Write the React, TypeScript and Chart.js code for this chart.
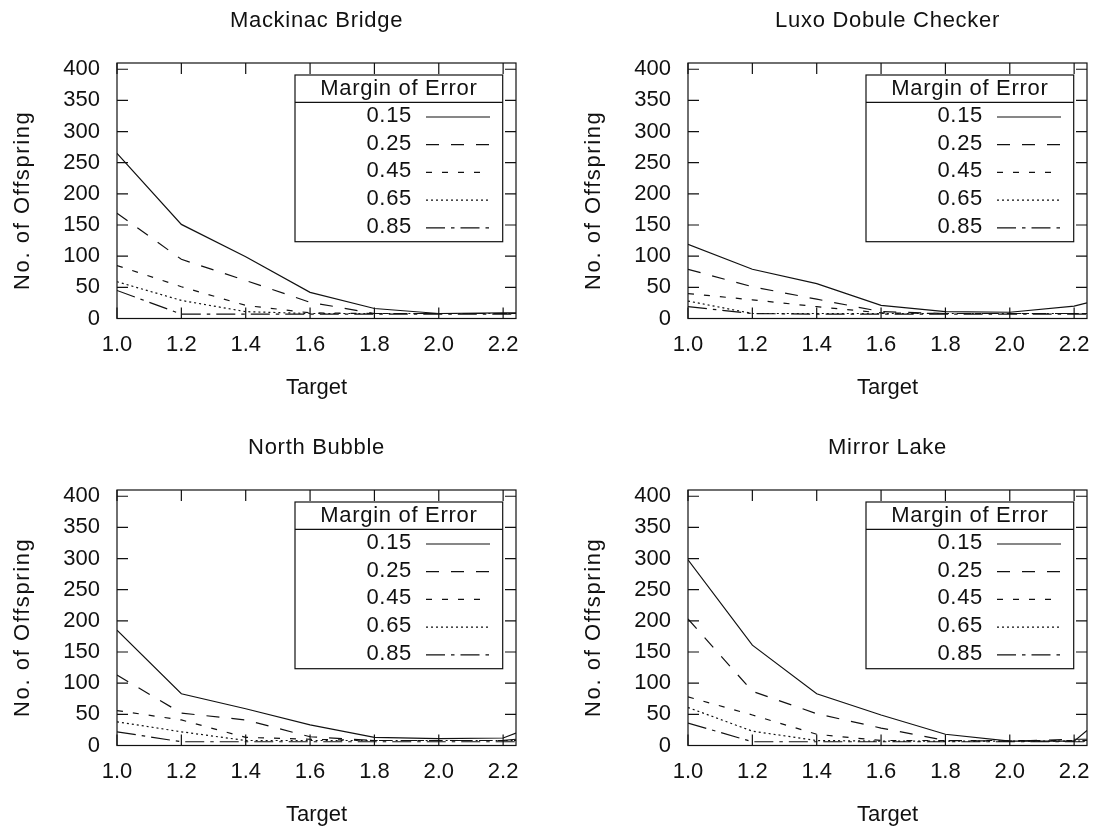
import React, { useEffect, useRef } from 'react';
import { Chart, registerables } from 'chart.js';

Chart.register(...registerables);

// ---------- data ----------
const targets = [1.0, 1.2, 1.4, 1.6, 1.8, 2.0, 2.2, 2.24];
const marginLabels = ['0.15', '0.25', '0.45', '0.65', '0.85'];
const xTickValues = [1.0, 1.2, 1.4, 1.6, 1.8, 2.0, 2.2];
const yTickValues = [0, 50, 100, 150, 200, 250, 300, 350, 400];

const mackinac015 = [265, 151, 99, 42, 16, 8, 9, 9];
const mackinac025 = [169, 95, 61, 26, 8, 8, 8, 8];
const mackinac045 = [85, 51, 21, 9, 8, 8, 8, 8];
const mackinac065 = [59, 29, 11, 8, 8, 8, 8, 8];
const mackinac085 = [45, 7, 7, 7, 7, 7, 7, 7];

const luxo015 = [119, 79, 56, 21, 11, 10, 20, 25];
const luxo025 = [79, 51, 31, 11, 8, 8, 8, 8];
const luxo045 = [40, 30, 19, 9, 8, 8, 8, 8];
const luxo065 = [28, 8, 8, 8, 8, 8, 8, 8];
const luxo085 = [19, 8, 7, 7, 7, 7, 7, 7];

const north015 = [185, 83, 59, 33, 13, 11, 12, 20];
const north025 = [113, 52, 41, 14, 8, 8, 8, 10];
const north045 = [56, 41, 13, 10, 8, 8, 8, 8];
const north065 = [38, 22, 8, 8, 8, 8, 8, 8];
const north085 = [22, 6, 6, 6, 6, 6, 6, 6];

const mirror015 = [298, 161, 83, 49, 18, 7, 7, 24];
const mirror025 = [203, 87, 51, 28, 8, 7, 10, 10];
const mirror045 = [78, 49, 18, 8, 8, 8, 8, 8];
const mirror065 = [61, 23, 8, 7, 7, 7, 7, 7];
const mirror085 = [36, 6, 6, 6, 6, 6, 6, 6];

const panelTitles = ['Mackinac Bridge', 'Luxo Dobule Checker', 'North Bubble', 'Mirror Lake'];
const panelSeries = [
  [mackinac015, mackinac025, mackinac045, mackinac065, mackinac085],
  [luxo015, luxo025, luxo045, luxo065, luxo085],
  [north015, north025, north045, north065, north085],
  [mirror015, mirror025, mirror045, mirror065, mirror085],
];

// ---------- styles ----------
const FONT = '"Liberation Sans", Arial, Helvetica, sans-serif';
const INK = '#111111';
const dashes = [[], [13, 12], [6, 10], [2, 3], [19, 6, 3.5, 6]];
const panelPos = [
  { left: 0, top: 0 },
  { left: 571, top: 0 },
  { left: 0, top: 427 },
  { left: 571, top: 427 },
];

const gnuplotDecor = {
  id: 'gnuplotDecor',
  afterDatasetsDraw(chart: any, _args: any, opts: any) {
    const { ctx, chartArea: a, scales } = chart;
    const xs = scales.x;
    const ys = scales.y;
    ctx.save();
    // frame
    ctx.strokeStyle = INK;
    ctx.lineWidth = 1.2;
    ctx.setLineDash([]);
    ctx.strokeRect(a.left, a.top, a.right - a.left, a.bottom - a.top);
    // inward ticks (mirrored)
    const TL = 11;
    ctx.beginPath();
    xTickValues.forEach((v) => {
      const px = xs.getPixelForValue(v);
      ctx.moveTo(px, a.bottom);
      ctx.lineTo(px, a.bottom - TL);
      ctx.moveTo(px, a.top);
      ctx.lineTo(px, a.top + TL);
    });
    yTickValues.forEach((v) => {
      const py = ys.getPixelForValue(v);
      ctx.moveTo(a.left, py);
      ctx.lineTo(a.left + TL, py);
      ctx.moveTo(a.right, py);
      ctx.lineTo(a.right - TL, py);
    });
    ctx.stroke();

    // key box
    const lx0 = a.left + 178;
    const lx1 = a.right - 13.3;
    const ly0 = a.top + 12;
    const boxH = 166.7;
    const headH = 27.3;
    ctx.lineWidth = 1.2;
    ctx.strokeRect(lx0, ly0, lx1 - lx0, boxH);
    ctx.beginPath();
    ctx.moveTo(lx0, ly0 + headH);
    ctx.lineTo(lx1, ly0 + headH);
    ctx.stroke();

    ctx.fillStyle = INK;
    ctx.font = `22px ${FONT}`;
    (ctx as any).letterSpacing = '0.7px';
    ctx.textBaseline = 'middle';
    ctx.textAlign = 'center';
    ctx.fillText('Margin of Error', (lx0 + lx1) / 2, ly0 + 14);

    chart.data.datasets.forEach((ds: any, i: number) => {
      const ry = ly0 + 41 + i * 27.7;
      ctx.textAlign = 'right';
      ctx.fillText(ds.label, lx0 + 117, ry);
      ctx.beginPath();
      ctx.lineWidth = 1.2;
      ctx.setLineDash(ds.borderDash || []);
      ctx.moveTo(lx0 + 131, ry + 1);
      ctx.lineTo(lx0 + 195, ry + 1);
      ctx.stroke();
    });
    ctx.setLineDash([]);

    // panel title
    ctx.textAlign = 'center';
    ctx.fillText(opts.title, (a.left + a.right) / 2, a.top - 42);

    // y axis label
    (ctx as any).letterSpacing = '1.6px';
    ctx.translate(a.left - 94, (a.top + a.bottom) / 2 + 9.5);
    ctx.rotate(-Math.PI / 2);
    ctx.fillText('No. of Offspring', 0, 0);
    ctx.restore();
  },
};

function Panel({ index }: { index: number }) {
  const ref = useRef<HTMLCanvasElement | null>(null);
  useEffect(() => {
    if (!ref.current) return;
    const series = panelSeries[index];
    const chart = new Chart(ref.current, {
      type: 'line',
      data: {
        datasets: series.map((vals, i) => ({
          label: marginLabels[i],
          data: targets.map((t, k) => ({ x: t, y: vals[k] })),
          borderColor: INK,
          borderWidth: 1.2,
          borderDash: dashes[i],
          pointRadius: 0,
          fill: false,
          tension: 0,
        })),
      },
      options: {
        responsive: false,
        maintainAspectRatio: false,
        animation: false,
        events: [],
        layout: { padding: { left: 0, top: 63, right: 11, bottom: 0 } },
        plugins: {
          legend: { display: false },
          title: { display: false },
          tooltip: { enabled: false },
          gnuplotDecor: { title: panelTitles[index] },
        } as any,
        scales: {
          x: {
            type: 'linear',
            min: 1.0,
            max: 2.24,
            grid: { display: false, drawTicks: false },
            border: { display: false },
            afterBuildTicks: (s: any) => {
              s.ticks = xTickValues.map((v) => ({ value: v }));
            },
            afterFit: (s: any) => {
              s.height = 81.5;
              s.paddingLeft = 0;
              s.paddingRight = 0;
            },
            ticks: {
              autoSkip: false,
              maxRotation: 0,
              padding: 13,
              color: INK,
              font: { family: FONT, size: 22 },
              callback: (v: any) => Number(v).toFixed(1),
            },
            title: {
              display: true,
              text: 'Target',
              color: INK,
              font: { family: FONT, size: 22, lineHeight: 1 },
              padding: { top: 0, bottom: 1 },
            },
          },
          y: {
            type: 'linear',
            min: 0,
            max: 410,
            grid: { display: false, drawTicks: false },
            border: { display: false },
            afterBuildTicks: (s: any) => {
              s.ticks = yTickValues.map((v) => ({ value: v }));
            },
            afterFit: (s: any) => {
              s.width = 117;
              s.paddingTop = 0;
              s.paddingBottom = 0;
            },
            ticks: {
              autoSkip: false,
              padding: 17,
              color: INK,
              font: { family: FONT, size: 22 },
              callback: (v: any) => String(v),
            },
          },
        },
      } as any,
      plugins: [gnuplotDecor],
    });
    return () => chart.destroy();
  }, [index]);
  const pos = panelPos[index];
  return (
    <canvas
      ref={ref}
      width={527}
      height={400}
      style={{ position: 'absolute', left: pos.left, top: pos.top, width: 527, height: 400 }}
    />
  );
}

export default function App() {
  return (
    <div
      style={{
        position: 'absolute',
        left: 0,
        top: 0,
        width: 1098,
        height: 828,
        overflow: 'hidden',
        background: '#ffffff',
      }}
    >
      {[0, 1, 2, 3].map((i) => (
        <Panel key={i} index={i} />
      ))}
    </div>
  );
}
